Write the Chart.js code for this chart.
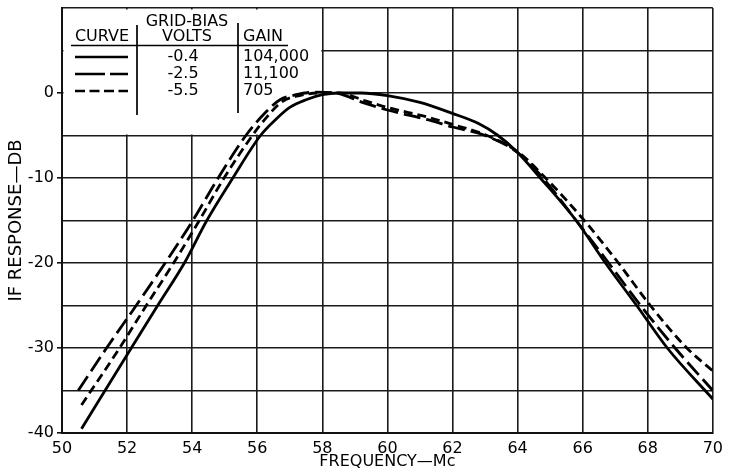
<!DOCTYPE html>
<html>
<head>
<meta charset="utf-8">
<script src="https://cdn.jsdelivr.net/npm/chart.js@4.4.1/dist/chart.umd.min.js"></script>
<style>
  html, body { margin: 0; padding: 0; background: #fff; }
  #wrap { width: 729px; height: 470px; position: relative; }
</style>
</head>
<body>
<div id="wrap"><canvas id="c"></canvas></div>
<script>
// ---- Data ----
// Curve for grid-bias -0.4 V (solid)
const solidFreq = [50.6, 52.13, 52.94, 53.76, 54.45, 55.25, 56.1, 56.6, 57.0, 57.5, 58.0, 58.5, 59.2, 60.0, 61.0, 62.0, 62.8, 63.4, 64.0, 64.7, 65.8, 66.7, 67.66, 68.6, 70.0];
const solidDb   = [-39.5, -30, -25, -20, -15, -10, -5, -3, -1.7, -0.8, -0.2, 0, 0, -0.3, -1.1, -2.4, -3.6, -5.0, -7.0, -10, -15, -20, -25, -30, -36];
// Curve for grid-bias -2.5 V (long dash)
const longFreq = [50.5, 51.37, 52.28, 53.17, 54.02, 54.8, 55.65, 56.2, 56.7, 57.2, 57.8, 58.4, 59.3, 60.0, 61.3, 62.0, 63.0, 64.0, 64.78, 65.8, 66.8, 67.78, 68.84, 70.0];
const longDb   = [-35, -30, -25, -20, -15, -10, -5, -2.5, -0.8, -0.2, 0.1, 0, -1.2, -2.0, -3.2, -4.0, -5.0, -7.0, -10, -15, -20, -25, -30, -35];
// Curve for grid-bias -5.5 V (short dash)
const shortFreq = [50.6, 51.77, 52.59, 53.43, 54.22, 54.98, 55.85, 56.3, 56.77, 57.3, 57.9, 58.5, 59.3, 60.0, 61.3, 62.0, 63.0, 64.0, 64.86, 66.05, 67.1, 68.08, 69.2, 70.0];
const shortDb   = [-36.7, -30, -25, -20, -15, -10, -5, -2.8, -1.0, -0.3, 0, 0, -0.9, -1.7, -2.9, -3.7, -4.9, -6.9, -10, -15, -20, -25, -30, -32.7];

// Legend table content
const curveBias = ['-0.4', '-2.5', '-5.5'];
const curveGain = ['104,000', '11,100', '705'];

// Axis ticks
const xTicks = [50, 52, 54, 56, 58, 60, 62, 64, 66, 68, 70];
const yLabelTicks = [0, -10, -20, -30, -40];

// ---- Styles ----
const FONT = '"DejaVu Sans", "Liberation Sans", sans-serif';
const dashes = [[], [17, 6], [9, 5]];
const legendDashes = [[], [30, 5], [10, 4.5]];

function pts(xs, ys) { return xs.map((x, i) => ({ x: x, y: ys[i] })); }

const legendPlugin = {
  id: 'legendTable',
  beforeDatasetsDraw(chart) {
    const { ctx, chartArea, scales } = chart;
    const L = chartArea.left, T = chartArea.top;
    const x58 = scales.x.getPixelForValue(58);
    const ym5 = scales.y.getPixelForValue(-5);
    ctx.save();
    ctx.fillStyle = '#fff';
    ctx.fillRect(L + 1.5, T + 1.5, x58 - L - 2.5, ym5 - T - 2.5);
    ctx.fillStyle = '#000';
    ctx.strokeStyle = '#000';
    ctx.font = '16px ' + FONT;
    ctx.textBaseline = 'middle';
    ctx.textAlign = 'center';
    ctx.fillText('GRID-BIAS', L + 125, T + 14);
    ctx.fillText('CURVE', L + 40, T + 29);
    ctx.fillText('VOLTS', L + 125, T + 29);
    ctx.textAlign = 'left';
    ctx.fillText('GAIN', L + 181, T + 29);
    // rules
    ctx.lineWidth = 1.7;
    ctx.beginPath();
    ctx.moveTo(L + 9, T + 37.5); ctx.lineTo(L + 226, T + 37.5);
    ctx.moveTo(L + 75, T + 17); ctx.lineTo(L + 75, T + 107);
    ctx.moveTo(L + 176, T + 15); ctx.lineTo(L + 176, T + 105);
    ctx.stroke();
    // rows
    for (let i = 0; i < 3; i++) {
      const y = T + 49 + i * 17;
      ctx.lineWidth = 2.5;
      ctx.setLineDash(legendDashes[i]);
      ctx.beginPath();
      ctx.moveTo(L + 13, y); ctx.lineTo(L + 66, y);
      ctx.stroke();
      ctx.setLineDash([]);
      ctx.textAlign = 'center';
      ctx.fillText(curveBias[i], L + 121, y);
      ctx.textAlign = 'left';
      ctx.fillText(curveGain[i], L + 181, y);
    }
    ctx.restore();
  }
};

const mk = (label, xs, ys, i) => ({
  label: label,
  data: pts(xs, ys),
  borderColor: '#000',
  borderWidth: 2.8,
  borderDash: dashes[i],
  pointRadius: 0,
  fill: false,
  cubicInterpolationMode: 'monotone',
  borderCapStyle: 'butt'
});

new Chart(document.getElementById('c'), {
  type: 'line',
  data: {
    datasets: [
      mk('-0.4', solidFreq, solidDb, 0),
      mk('-2.5', longFreq, longDb, 1),
      mk('-5.5', shortFreq, shortDb, 2)
    ]
  },
  plugins: [legendPlugin],
  options: {
    responsive: true,
    maintainAspectRatio: false,
    animation: false,
    layout: { padding: { top: 8, right: 12, left: 0, bottom: 0 } },
    plugins: { legend: { display: false }, tooltip: { enabled: false } },
    scales: {
      x: {
        type: 'linear',
        min: 50, max: 70,
        afterBuildTicks: (s) => { s.ticks = xTicks.map(v => ({ value: v })); },
        afterFit: (s) => { s.height = 37; },
        grid: { color: '#1a1a1a', lineWidth: 1.6, drawTicks: false },
        border: { color: '#111', width: 2 },
        ticks: { color: '#000', font: { family: FONT, size: 16 }, padding: 6, maxRotation: 0,
                 callback: (v) => String(v) },
        title: { display: true, text: 'FREQUENCY\u2014Mc', color: '#000',
                 font: { family: FONT, size: 16 }, padding: { top: 0, bottom: -1 } }
      },
      y: {
        type: 'linear',
        min: -40, max: 10,
        ticks: { stepSize: 5, color: '#000', font: { family: FONT, size: 16 }, padding: 3,
                 callback: (v) => yLabelTicks.includes(v) ? String(v) : '' },
        afterFit: (s) => { s.width = 62; s.paddingTop = 0; s.paddingBottom = 0; },
        grid: { color: '#1a1a1a', lineWidth: 1.6, tickLength: 5,
                tickColor: (c) => (c.tick && yLabelTicks.includes(c.tick.value)) ? '#111' : 'rgba(0,0,0,0)' },
        border: { color: '#111', width: 2 },
        title: { display: true, text: 'IF RESPONSE\u2014DB', color: '#000',
                 font: { family: FONT, size: 18 }, padding: { top: 6, bottom: 0 } }
      }
    }
  }
});
</script>
</body>
</html>
